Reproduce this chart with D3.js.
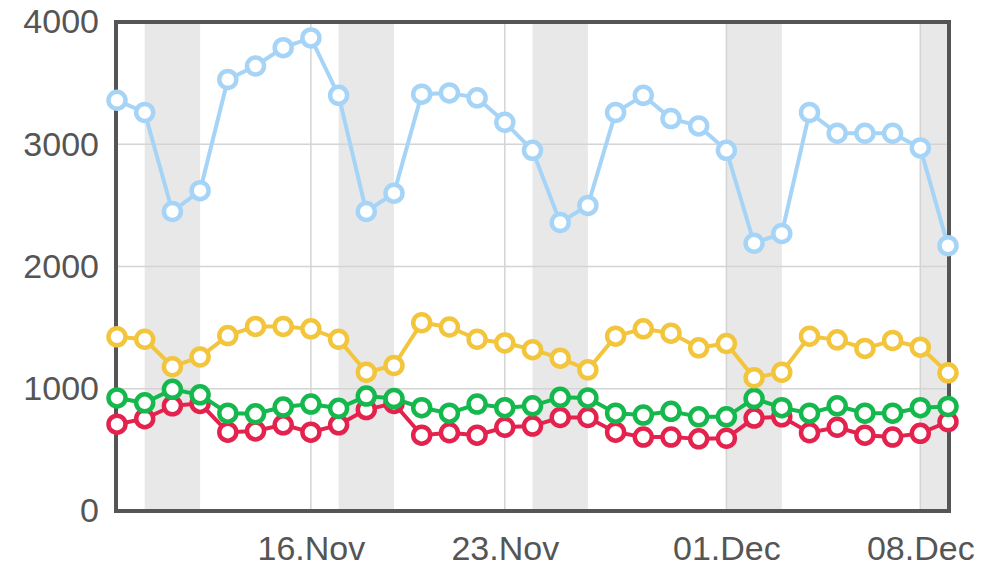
<!DOCTYPE html>
<html>
<head>
<meta charset="utf-8">
<script src="https://cdnjs.cloudflare.com/ajax/libs/d3/7.8.5/d3.min.js"></script>
<style>
  html, body { margin: 0; padding: 0; background: #fff; }
  svg { display: block; font-family: "Liberation Sans", Arial, sans-serif; }
</style>
</head>
<body>
<div id="wrapper"></div>
<script>
const days = [
  "2012-11-09","2012-11-10","2012-11-11","2012-11-12","2012-11-13","2012-11-14","2012-11-15",
  "2012-11-16","2012-11-17","2012-11-18","2012-11-19","2012-11-20","2012-11-21","2012-11-22",
  "2012-11-23","2012-11-24","2012-11-25","2012-11-26","2012-11-27","2012-11-28","2012-11-29",
  "2012-11-30","2012-12-01","2012-12-02","2012-12-03","2012-12-04","2012-12-05","2012-12-06",
  "2012-12-07","2012-12-08","2012-12-09"
]
const blueValues = [3360, 3260, 2450, 2620, 3530, 3640, 3790, 3870, 3400, 2450, 2600, 3410, 3420, 3380, 3180, 2950,
  2360, 2500, 3260, 3400, 3210, 3150, 2950, 2190, 2270, 3260, 3090, 3090, 3090, 2970, 2170]
const yellowValues = [1425, 1405, 1180, 1260, 1435, 1510, 1510, 1490, 1405, 1135, 1190, 1540, 1505, 1405, 1375, 1320,
  1250, 1155, 1430, 1490, 1455, 1335, 1370, 1090, 1135, 1430, 1400, 1330, 1395, 1340, 1130]
const greenValues = [925, 885, 995, 950, 800, 795, 850, 875, 840, 940, 920, 845, 800, 875, 845, 860,
  930, 925, 800, 785, 815, 770, 770, 920, 845, 800, 860, 800, 800, 845, 855]
const redValues = [710, 755, 860, 880, 645, 655, 705, 645, 705, 830, 880, 620, 640, 620, 685, 695,
  765, 765, 645, 605, 605, 590, 595, 760, 770, 640, 685, 620, 605, 635, 730]
const yTicks = [0, 1000, 2000, 3000, 4000]
const xTickDays = ["2012-11-16", "2012-11-23", "2012-12-01", "2012-12-08"]

const seriesList = [
  { name: "red", values: redValues, color: "#e3234d" },
  { name: "green", values: greenValues, color: "#14b84d" },
  { name: "yellow", values: yellowValues, color: "#f2c53d" },
  { name: "blue", values: blueValues, color: "#a6d4f7" },
]

const parseDay = d3.timeParse("%Y-%m-%d")
const dates = days.map(parseDay)

const width = 1002
const height = 569
const plot = { left: 117, right: 948, top: 22, bottom: 511 }

const svg = d3.select("#wrapper")
  .append("svg")
  .attr("width", width)
  .attr("height", height)

const xScale = d3.scaleTime()
  .domain(d3.extent(dates))
  .range([plot.left, plot.right])
const yScale = d3.scaleLinear()
  .domain([0, 4000])
  .range([plot.bottom, plot.top])

// weekend bands (Sat -> Mon), clipped to the plot
const [dMin, dMax] = xScale.domain()
const saturdays = dates.filter(d => d.getDay() === 6)
svg.append("g")
  .selectAll("rect")
  .data(saturdays)
  .join("rect")
  .attr("x", d => xScale(d))
  .attr("width", d => xScale(d3.min([d3.timeDay.offset(d, 2), dMax])) - xScale(d))
  .attr("y", plot.top)
  .attr("height", plot.bottom - plot.top)
  .attr("fill", "#e8e8e8")

// grid lines
svg.append("g")
  .selectAll("line")
  .data(yTicks.slice(1, -1))
  .join("line")
  .attr("x1", plot.left)
  .attr("x2", plot.right)
  .attr("y1", d => yScale(d))
  .attr("y2", d => yScale(d))
  .attr("stroke", "#d4d4d4")
  .attr("stroke-width", 1.5)

const xTicks = xTickDays.map(parseDay)
svg.append("g")
  .selectAll("line")
  .data(xTicks)
  .join("line")
  .attr("x1", d => xScale(d))
  .attr("x2", d => xScale(d))
  .attr("y1", plot.top)
  .attr("y2", plot.bottom)
  .attr("stroke", "#d4d4d4")
  .attr("stroke-width", 1.5)

// frame
svg.append("rect")
  .attr("x", plot.left - 1)
  .attr("y", plot.top)
  .attr("width", plot.right - plot.left + 2)
  .attr("height", plot.bottom - plot.top)
  .attr("fill", "none")
  .attr("stroke", "#555")
  .attr("stroke-width", 4)

// axes
const yAxis = svg.append("g")
  .attr("transform", `translate(${plot.left - 18},0)`)
  .call(d3.axisLeft(yScale).tickValues(yTicks).tickFormat(d3.format("d")).tickSize(0).tickPadding(0))
yAxis.select(".domain").remove()
yAxis.selectAll("text")
  .attr("fill", "#555")
  .style("font-size", "34px")

const xAxis = svg.append("g")
  .attr("transform", `translate(0,${plot.bottom + 25})`)
  .call(d3.axisBottom(xScale).tickValues(xTicks).tickFormat(d3.timeFormat("%d.%b")).tickSize(0).tickPadding(0))
xAxis.select(".domain").remove()
xAxis.selectAll("text")
  .attr("fill", "#555")
  .style("font-size", "34px")

// lines + markers
const lineGenerator = d3.line()
  .x((d, i) => xScale(dates[i]))
  .y(d => yScale(d))

seriesList.forEach(s => {
  const g = svg.append("g")
  g.append("path")
    .attr("d", lineGenerator(s.values))
    .attr("fill", "none")
    .attr("stroke", s.color)
    .attr("stroke-width", 4)
  g.selectAll("circle")
    .data(s.values)
    .join("circle")
    .attr("cx", (d, i) => xScale(dates[i]))
    .attr("cy", d => yScale(d))
    .attr("r", 8.5)
    .attr("fill", "#fff")
    .attr("stroke", s.color)
    .attr("stroke-width", 4.5)
})
</script>
</body>
</html>
